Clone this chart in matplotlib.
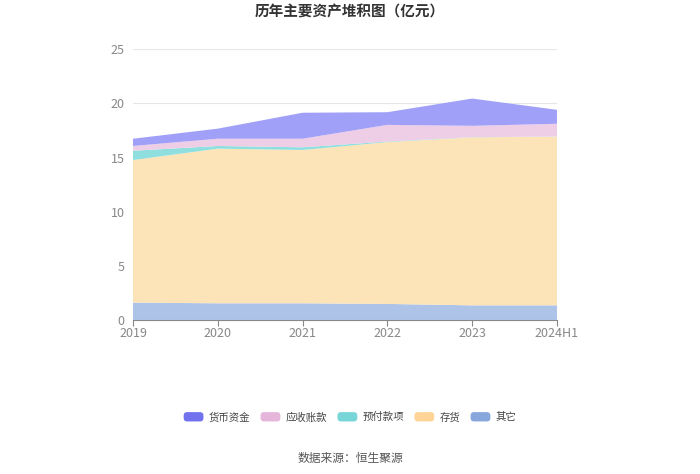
import numpy as np
import matplotlib.pyplot as plt
from matplotlib.patches import Patch, FancyBboxPatch
from matplotlib.legend_handler import HandlerPatch

plt.rcParams['font.family'] = ['Noto Sans CJK SC', 'DejaVu Sans']

years = ['2019', '2020', '2021', '2022', '2023', '2024H1']
qita = [1.60, 1.54, 1.54, 1.48, 1.35, 1.35]        # 其它
cunhuo = [13.17, 14.28, 14.16, 14.95, 15.52, 15.58]  # 存货
yufu = [0.86, 0.25, 0.25, 0.05, 0.02, 0.02]        # 预付款项
yingshou = [0.44, 0.67, 0.79, 1.54, 1.04, 1.17]    # 应收账款
huobi = [0.67, 0.93, 2.40, 1.17, 2.52, 1.29]       # 货币资金

names = ['其它', '存货', '预付款项', '应收账款', '货币资金']
fill_colors = ['#aec3e8', '#fde4b8', '#8fdfdf', '#eecde6', '#a0a0f8']
legend_colors = ['#87a6dc', '#ffd597', '#78d5d8', '#e6b5da', '#7272ee']


class RoundHandler(HandlerPatch):
    def create_artists(self, legend, orig_handle, xdescent, ydescent,
                       width, height, fontsize, trans):
        p = FancyBboxPatch((-xdescent, -ydescent), width, height,
                           boxstyle='round,pad=0,rounding_size=2.5',
                           facecolor=orig_handle.get_facecolor(),
                           edgecolor='none', transform=trans)
        return [p]


fig = plt.figure(figsize=(7, 4.74), dpi=100)
ax = fig.add_axes([0.19, 0.325, 0.6057, 0.571])

x = np.arange(len(years))
ax.stackplot(x, qita, cunhuo, yufu, yingshou, huobi,
             colors=fill_colors, linewidth=0)

ax.set_xlim(0, len(years) - 1)
ax.set_ylim(0, 25)
ax.set_yticks([0, 5, 10, 15, 20, 25])
ax.set_xticks(x)
ax.set_xticklabels(years)
ax.tick_params(axis='y', length=0, labelsize=9, colors='#888888', pad=6)
ax.tick_params(axis='x', length=4, color='#888888', labelsize=9,
               labelcolor='#888888', pad=1)
ax.set_axisbelow(True)
ax.grid(axis='y', color='#e6e6e6', linewidth=0.8)
for s in ['top', 'right', 'left']:
    ax.spines[s].set_visible(False)
ax.spines['bottom'].set_color('#888888')
ax.spines['bottom'].set_zorder(5)

fig.text(0.5, 0.975, '历年主要资产堆积图（亿元）', ha='center', va='center',
         fontsize=10.5, fontweight='bold', color='#333333')

order = [4, 3, 2, 1, 0]
handles = [Patch(facecolor=legend_colors[i], edgecolor='none') for i in order]
fig.legend(handles, [names[i] for i in order], loc='center',
           bbox_to_anchor=(0.5, 0.12), ncol=5, frameon=False, fontsize=7.5,
           handlelength=1.9, handleheight=1.0, columnspacing=1.0,
           handletextpad=0.5, labelcolor='#444444',
           handler_map={Patch: RoundHandler()})

fig.text(0.5, 0.033, '数据来源：恒生聚源', ha='center', va='center',
         fontsize=8.5, color='#555555')

fig.savefig('out.png', dpi=100)
